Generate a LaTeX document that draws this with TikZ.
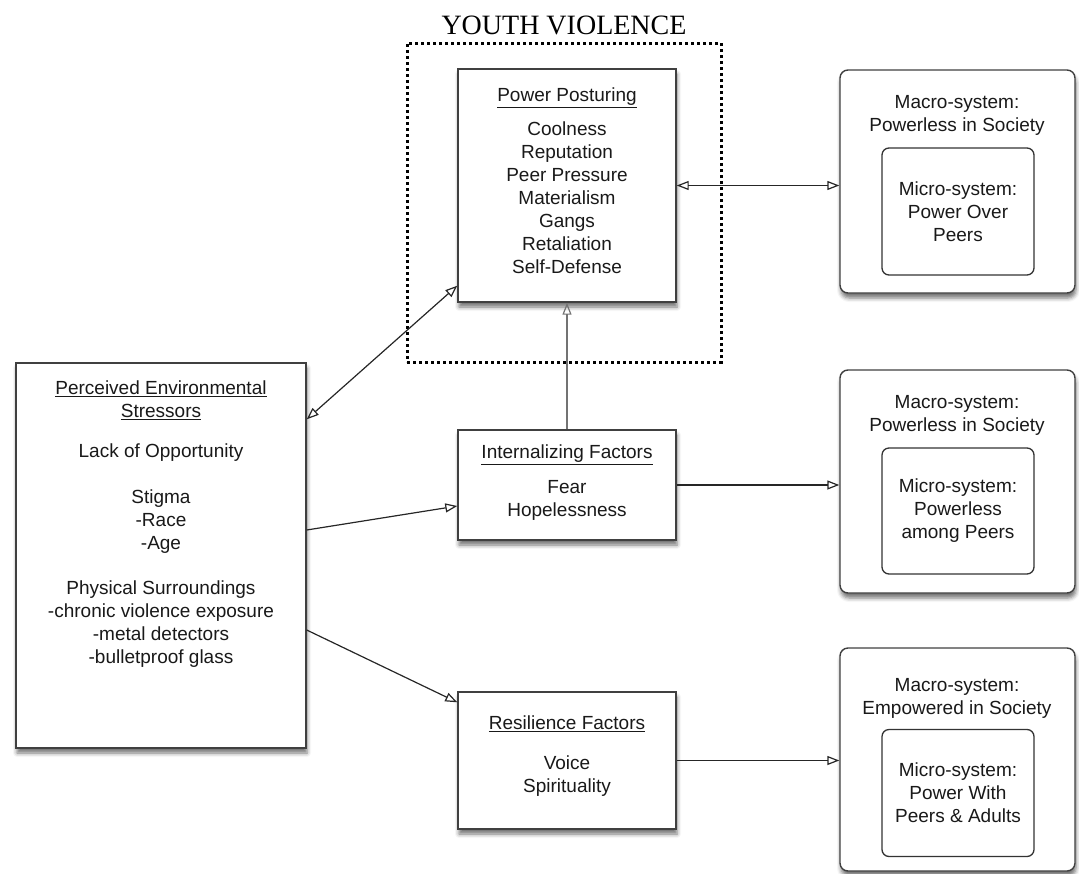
\documentclass[tikz,border=0pt]{standalone}
\usepackage{fontspec}
\setmainfont{Liberation Sans}
\newfontfamily\titlefont{Liberation Serif}
\usetikzlibrary{arrows.meta,shadows.blur}
\begin{document}
\begin{tikzpicture}[x=1pt,y=-1pt,
  box/.style={rectangle, draw=black!75, line width=1.4pt, fill=white, inner sep=0pt,
    blur shadow={shadow xshift=1pt, shadow yshift=-5pt, shadow blur radius=4pt, shadow opacity=55}},
  rbox/.style={box, rounded corners=8pt},
  inbox/.style={rectangle, rounded corners=7pt, draw=black!80, line width=1.3pt, fill=white,
    inner sep=0pt, align=center, font=\fontsize{19}{23}\selectfont, text=black!90},
  txt/.style={font=\fontsize{19}{23}\selectfont, align=center, inner sep=0pt, text=black!90},
  conn/.style={line width=1.2pt, draw=black!85, -{Triangle[open,length=12pt,width=9pt]}},
  biconn/.style={line width=1.2pt, draw=black!85, {Triangle[open,length=12pt,width=9pt]}-{Triangle[open,length=12pt,width=9pt]}},
  yvbox/.style={rectangle, draw=black, line width=3pt, dash pattern=on 3pt off 3pt, inner sep=0pt}
]
\useasboundingbox (0,0) rectangle (1079,873);

% title and dotted frame
\node[font=\titlefont\fontsize{28}{30}\selectfont, inner sep=0pt] (title) at (564,25) {YOUTH VIOLENCE};
\node[yvbox, minimum width=314pt, minimum height=319pt] (yv) at (564,202.5) {};

% main boxes
\node[box, minimum width=218pt, minimum height=233pt] (pp) at (567,185.5) {};
\node[txt, anchor=north] (pptxt) at (567,88) {\underline{Power Posturing}\\[11pt]
  Coolness\\Reputation\\Peer Pressure\\Materialism\\Gangs\\Retaliation\\Self-Defense};

\node[box, minimum width=290pt, minimum height=385pt] (stress) at (161,555.5) {};
\node[txt, anchor=north] (stresstxt) at (161,381) {\underline{Perceived Environmental}\\
  \underline{Stressors}\\[17pt]
  Lack of Opportunity\\[23pt]
  Stigma\\-Race\\-Age\\[22pt]
  Physical Surroundings\\-chronic violence exposure\\-metal detectors\\-bulletproof glass};

\node[box, minimum width=218pt, minimum height=110pt] (intern) at (567,485) {};
\node[txt, anchor=north] (interntxt) at (567,445) {\underline{Internalizing Factors}\\[12pt]
  Fear\\Hopelessness};

\node[box, minimum width=218pt, minimum height=137pt] (resil) at (567,760.5) {};
\node[txt, anchor=north] (resiltxt) at (567,716) {\underline{Resilience Factors}\\[17pt]
  Voice\\Spirituality};

% macro / micro systems
\node[rbox, minimum width=235pt, minimum height=223pt] (mac1) at (957.5,181.5) {};
\node[txt, anchor=north] (mac1txt) at (957,95) {Macro-system:\\Powerless in Society};
\node[inbox, minimum width=152pt, minimum height=127pt] (mic1) at (958,211.5) {Micro-system:\\Power Over\\Peers};

\node[rbox, minimum width=235pt, minimum height=223pt] (mac2) at (957.5,481.5) {};
\node[txt, anchor=north] (mac2txt) at (957,395) {Macro-system:\\Powerless in Society};
\node[inbox, minimum width=152pt, minimum height=126pt] (mic2) at (958,511) {Micro-system:\\Powerless\\among Peers};

\node[rbox, minimum width=235pt, minimum height=223pt] (mac3) at (957.5,759.5) {};
\node[txt, anchor=north] (mac3txt) at (957,678) {Macro-system:\\Empowered in Society};
\node[inbox, minimum width=152pt, minimum height=127pt] (mic3) at (958,793) {Micro-system:\\Power With\\Peers \& Adults};

% connectors
\draw[biconn] (pp.east) -- (pp.east -| mac1.west);
\draw[conn, draw=black!55] (intern.north) -- (pp.south);
\draw[biconn] ([yshift=-57pt]stress.north east) -- ([yshift=17pt]pp.south west);
\draw[conn] ([yshift=25.5pt]stress.east) -- ([yshift=-21pt]intern.west);
\draw[conn] ([yshift=-74.5pt]stress.east) -- ([yshift=-11pt]resil.north west);
\draw[conn] (intern.east) -- (intern.east -| mac2.west);
\draw[conn] (resil.east) -- (resil.east -| mac3.west);
\end{tikzpicture}
\end{document}
